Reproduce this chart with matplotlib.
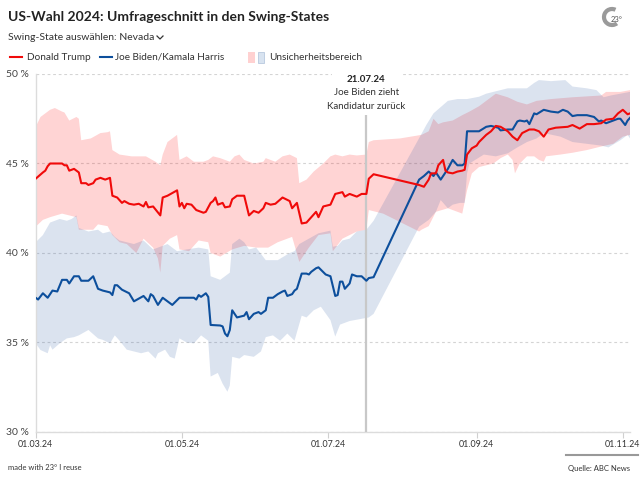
import numpy as np
import matplotlib.pyplot as plt
import matplotlib.dates as mdates
from matplotlib.patches import Rectangle, Arc
from matplotlib.lines import Line2D

plt.rcParams['font.family'] = ['Lato', 'DejaVu Sans']

# Tage seit dem 01.03.24 und Umfragewerte in Prozent (Nevada)
start = np.datetime64('2024-03-01')

trump_days = [0, 3, 4, 5, 6, 11, 12, 13, 14, 16, 18, 19, 21, 22, 24, 25, 27, 29, 31, 32,
              34, 36, 37, 39, 41, 43, 45, 46, 47, 49, 52, 53, 55, 59, 60, 61, 62, 63, 65, 67,
              70, 71, 73, 74, 75, 76, 78, 79, 81, 82, 84, 87, 89, 91, 93, 95, 96, 98, 100, 103,
              106, 107, 109, 111, 113, 117, 118, 120, 123, 125, 128, 129, 131, 134, 136, 137, 138, 139, 141, 160,
              162, 164, 165, 167, 168, 170, 171, 172, 174, 176, 178, 179, 180, 182, 184, 185, 188, 190, 192, 194,
              197, 199, 201, 203, 206, 208, 210, 212, 214, 217, 222, 224, 227, 230, 233, 236, 238, 241, 243, 245,
              247, 248]
trump_vals = [44.15, 44.5, 44.6, 44.85, 45.0, 45.0, 44.9, 44.9, 44.6, 44.7, 44.5, 43.9, 43.9, 43.8, 43.9, 44.1, 44.2, 44.1, 44.2, 43.2,
              43.1, 42.8, 42.9, 42.75, 42.7, 42.75, 42.6, 42.85, 42.55, 42.6, 42.1, 43.1, 43.2, 43.5, 42.6, 42.8, 42.5, 42.75, 42.7, 42.4,
              42.25, 42.3, 42.8, 42.9, 43.1, 42.7, 42.8, 42.55, 42.6, 43.0, 43.2, 43.2, 42.1, 42.35, 42.25, 42.5, 42.8, 42.7, 42.75, 43.1,
              42.9, 42.5, 42.8, 41.65, 41.7, 42.3, 42.0, 42.6, 42.7, 43.3, 43.4, 43.15, 43.3, 43.15, 43.3, 43.3, 43.3, 44.15, 44.4, 43.8,
              43.7, 44.1, 44.45, 44.45, 44.9, 45.2, 44.6, 44.5, 44.45, 44.55, 44.6, 44.65, 45.5, 45.85, 46.0, 46.2, 46.6, 46.8, 47.1, 47.05,
              46.8, 46.5, 46.3, 46.7, 46.9, 46.9, 46.8, 46.5, 46.9, 47.0, 47.05, 47.15, 46.95, 47.2, 47.2, 47.25, 47.45, 47.5, 47.8, 48.0,
              47.75, 47.8]

biden_days = [0, 1, 3, 5, 7, 9, 11, 13, 14, 16, 18, 19, 22, 24, 26, 28, 31, 32, 33, 34,
              36, 39, 41, 45, 47, 48, 49, 51, 53, 55, 57, 60, 66, 67, 68, 69, 71, 72, 73, 77,
              78, 79, 80, 81, 82, 84, 87, 88, 89, 91, 93, 94, 96, 97, 99, 101, 103, 104, 105, 107,
              108, 109, 111, 113, 114, 115, 117, 118, 121, 123, 125, 126, 127, 128, 129, 131, 132, 134, 136, 138,
              139, 141, 160, 162, 164, 166, 167, 169, 172, 174, 176, 178, 179, 180, 185, 188, 190, 193, 194, 197,
              199, 201, 202, 204, 205, 206, 208, 209, 212, 215, 218, 220, 222, 224, 226, 230, 233, 235, 236, 238,
              240, 243, 244, 246, 247, 248]
biden_vals = [37.5, 37.4, 37.75, 37.5, 37.9, 37.85, 38.5, 38.5, 38.3, 38.7, 38.7, 38.45, 38.45, 38.7, 38.0, 37.9, 37.8, 37.65, 38.2, 38.2,
              37.95, 37.75, 37.3, 37.6, 37.3, 37.7, 37.6, 37.1, 37.5, 37.3, 37.1, 37.5, 37.5, 37.4, 37.65, 37.55, 37.75, 37.55, 35.98, 35.95,
              35.9, 35.5, 35.35, 35.7, 36.8, 36.4, 36.5, 36.7, 36.3, 36.6, 36.7, 36.6, 36.8, 37.5, 37.5, 37.7, 37.85, 37.9, 37.6, 37.7,
              37.9, 38.0, 38.85, 38.85, 38.8, 38.95, 39.15, 39.2, 38.8, 38.7, 37.6, 37.65, 38.4, 38.4, 38.0, 38.3, 38.8, 38.7, 38.7, 38.45,
              38.6, 38.65, 44.1, 44.3, 44.55, 44.3, 44.5, 44.1, 44.7, 45.2, 44.9, 44.9, 45.0, 46.8, 46.8, 47.05, 47.1, 47.0, 46.85, 46.9,
              46.9, 47.35, 47.4, 47.35, 47.4, 47.2, 47.8, 47.75, 48.0, 47.9, 47.85, 48.0, 47.9, 47.65, 47.7, 47.7, 47.6, 47.35, 47.4, 47.25,
              47.35, 47.5, 47.5, 47.15, 47.4, 47.55]

trump_hi_days = [0, 2, 6, 8, 11, 12, 14, 17, 18, 19, 23, 27, 30, 31, 32, 35, 40, 46, 50, 52,
                 53, 55, 59, 60, 63, 66, 70, 72, 74, 77, 81, 83, 85, 87, 91, 95, 96, 100, 103, 106,
                 109, 110, 113, 116, 120, 123, 125, 128, 131, 134, 138, 139, 141, 152, 161, 164, 166, 168, 170, 174,
                 178, 181, 185, 190, 192, 197, 201, 205, 209, 215, 224, 236, 238, 244, 248]
trump_hi_vals = [47.05, 47.6, 48.0, 48.1, 47.9, 47.85, 47.4, 47.6, 47.5, 46.3, 46.4, 46.7, 46.75, 46.8, 45.75, 45.5, 45.4, 45.4, 45.1, 44.9,
                 45.5, 46.2, 46.6, 45.2, 45.4, 45.1, 45.1, 45.2, 45.4, 45.3, 45.1, 45.4, 45.5, 45.2, 45.0, 45.1, 45.3, 45.1, 45.4, 45.5,
                 45.3, 43.9, 44.1, 44.55, 45.0, 45.4, 45.5, 45.4, 45.5, 45.45, 45.5, 46.2, 46.3, 46.4, 46.6, 46.8, 47.5, 47.2, 47.3, 47.4,
                 47.7, 47.9, 48.2, 48.7, 48.9, 48.7, 48.45, 48.3, 48.5, 48.6, 48.7, 48.8, 49.0, 49.0, 49.1]

trump_lo_days = [0, 3, 6, 11, 17, 18, 24, 26, 30, 32, 35, 38, 42, 45, 49, 51, 52, 53, 56, 59,
                 60, 64, 68, 72, 73, 77, 82, 87, 92, 97, 101, 106, 107, 110, 114, 118, 123, 124, 128, 131,
                 134, 138, 139, 145, 160, 161, 164, 167, 172, 178, 180, 182, 185, 191, 194, 197, 199, 200, 202, 205,
                 208, 210, 212, 213, 219, 224, 230, 236, 241, 245, 248]
trump_lo_vals = [41.47, 41.85, 42.0, 42.2, 42.0, 41.3, 41.3, 41.6, 41.5, 41.0, 40.6, 40.5, 40.0, 40.8, 40.3, 39.7, 38.9, 40.4, 40.8, 41.0,
                 40.2, 40.1, 40.7, 40.6, 40.0, 39.8, 40.2, 40.4, 40.3, 40.3, 40.6, 40.85, 40.9, 39.5, 40.3, 41.0, 41.1, 40.1, 40.8, 41.0,
                 41.2, 41.3, 42.4, 42.2, 41.2, 41.3, 41.5, 42.3, 42.5, 42.2, 43.5, 44.45, 44.8, 45.0, 45.3, 45.5, 45.2, 44.45, 45.0, 45.4,
                 45.4, 45.2, 45.1, 45.4, 45.5, 45.6, 45.75, 45.95, 46.1, 46.5, 46.6]

biden_hi_days = [0, 3, 6, 10, 13, 15, 17, 18, 22, 26, 28, 31, 33, 35, 41, 45, 49, 51, 55, 59,
                 63, 68, 72, 73, 77, 81, 82, 85, 87, 89, 92, 96, 101, 106, 108, 110, 114, 118, 123, 124,
                 126, 128, 131, 134, 138, 141, 162, 163, 166, 172, 176, 180, 185, 188, 191, 197, 205, 208, 210, 215,
                 221, 224, 230, 234, 237, 240, 244, 248]
biden_hi_vals = [40.6, 41.0, 41.7, 41.9, 41.8, 41.9, 42.1, 41.4, 41.2, 41.3, 41.1, 41.2, 40.9, 40.7, 40.5, 40.7, 40.2, 40.3, 40.5, 40.1,
                 40.2, 40.3, 40.2, 38.7, 38.5, 38.9, 40.5, 40.8, 40.6, 40.2, 40.3, 39.6, 39.6, 40.0, 40.1, 40.5, 40.8, 41.1, 41.25, 40.35,
                 40.4, 40.7, 40.8, 41.2, 41.3, 41.8, 46.9, 47.15, 47.8, 48.5, 48.6, 48.6, 48.73, 48.9, 49.0, 49.2, 49.2, 49.5, 49.66, 49.6,
                 49.66, 49.3, 49.2, 49.1, 48.7, 48.8, 48.9, 49.0]

biden_lo_days = [0, 2, 5, 6, 7, 10, 13, 16, 18, 22, 26, 28, 31, 33, 35, 38, 41, 44, 47, 50,
                 51, 54, 56, 58, 60, 63, 66, 69, 72, 73, 76, 78, 80, 81, 82, 85, 87, 91, 94, 96,
                 99, 102, 105, 108, 111, 113, 116, 119, 123, 125, 127, 131, 135, 139, 141, 160, 164, 167, 169, 172,
                 174, 177, 179, 180, 181, 187, 192, 197, 201, 205, 209, 212, 219, 224, 230, 236, 239, 244, 247, 248]
biden_lo_vals = [34.95, 34.58, 34.4, 34.85, 34.6, 34.95, 35.23, 35.3, 35.4, 35.7, 35.23, 35.15, 34.95, 35.4, 35.1, 34.6, 34.5, 34.4, 34.5, 34.1,
                 34.4, 34.6, 34.2, 34.1, 35.23, 35.0, 34.95, 35.4, 35.1, 33.1, 33.3, 32.7, 32.25, 32.6, 34.2, 34.1, 34.3, 34.2, 34.5, 35.3,
                 35.4, 35.1, 35.5, 35.1, 36.5, 36.4, 36.8, 37.0, 36.25, 35.33, 36.0, 36.2, 36.3, 36.4, 36.6, 41.47, 41.85, 42.3, 42.96, 42.5,
                 42.7, 42.8, 42.8, 44.45, 45.0, 45.5, 45.4, 45.57, 45.9, 46.2, 46.4, 46.7, 46.5, 46.2, 46.1, 46.0, 45.9, 46.3, 46.6, 46.4]

tick_dates = ['2024-03-01', '2024-05-01', '2024-07-01', '2024-09-01', '2024-11-01']
tick_labels = ['01.03.24', '01.05.24', '01.07.24', '01.09.24', '01.11.24']
y_ticks = [30, 35, 40, 45, 50]
event_date = '2024-07-17'

RED = '#f00a0a'
BLUE = '#0d4f9c'


def to_num(days):
    return mdates.date2num(start + np.array(days).astype('timedelta64[D]'))


def band(ax, hi_d, hi_v, lo_d, lo_v, color):
    xs = np.concatenate([to_num(hi_d), to_num(lo_d)[::-1]])
    ys = np.concatenate([hi_v, lo_v[::-1]])
    ax.fill(xs, ys, color=color, alpha=0.17, lw=0, zorder=2)


W, H = 640, 480


def fx(x):
    return x / W


def fy(y):
    return 1 - y / H


fig = plt.figure(figsize=(6.4, 4.8), dpi=100)
ax = fig.add_axes([fx(35.7), fy(432), (630 - 35.7) / W, (432 - 74) / H])

band(ax, trump_hi_days, trump_hi_vals, trump_lo_days, trump_lo_vals, '#ff0000')
band(ax, biden_hi_days, biden_hi_vals, biden_lo_days, biden_lo_vals, '#2a5aa5')

ax.plot(to_num(biden_days), biden_vals, color=BLUE, lw=1.5, zorder=4)
ax.plot(to_num(trump_days), trump_vals, color=RED, lw=1.5, zorder=5)

ax.set_ylim(30, 50)
ax.set_xlim(to_num([0])[0], to_num([248])[0])

ax.set_yticks(y_ticks)
ax.set_yticklabels([f'{v} %' for v in y_ticks])
ax.set_xticks(mdates.date2num(np.array(tick_dates, dtype='datetime64[D]')))
ax.set_xticklabels(tick_labels)
ax.grid(axis='y', color='#d4d4d4', ls=(0, (2.5, 2.5)), lw=0.8, zorder=1)
ax.set_axisbelow(True)

for s in ['top', 'right']:
    ax.spines[s].set_visible(False)
for s in ['left', 'bottom']:
    ax.spines[s].set_color('#dcdcdc')
    ax.spines[s].set_linewidth(1.0)
ax.tick_params(axis='y', length=0, pad=5, labelsize=7.5, labelcolor='#444444')
ax.tick_params(axis='x', length=4, color='#d0d0d0', pad=2, labelsize=6.4, labelcolor='#333333')

# Ereignis-Markierung mit weißem Hintergrund über der 50-%-Linie
ev = mdates.date2num(np.datetime64(event_date))
ax.add_patch(Rectangle(((332 - 35.7) / 594.3, 0.885), 70 / 594.3, 0.13,
                       transform=ax.transAxes, fc='white', ec='none', zorder=6, clip_on=False))
ax.plot([ev, ev], [30, 47.8], color='#c8c8c8', lw=1.6, zorder=3)
ax.text(ev, 49.72, '21.07.24', ha='center', va='center', fontsize=7, weight='bold',
        color='#222222', zorder=7)
ax.text(ev, 48.94, 'Joe Biden zieht', ha='center', va='center', fontsize=7,
        color='#333333', zorder=7)
ax.text(ev, 48.21, 'Kandidatur zurück', ha='center', va='center', fontsize=7,
        color='#333333', zorder=7)

# Kopfbereich
fig.text(fx(8), fy(17), 'US-Wahl 2024: Umfrageschnitt in den Swing-States',
         fontsize=10, weight='bold', color='#222222', va='center')
fig.text(fx(8), fy(37), 'Swing-State auswählen: Nevada', fontsize=7.5,
         color='#333333', va='center')
fig.add_artist(Line2D([fx(157), fx(160), fx(163)], [fy(36), fy(39), fy(36)],
                      color='#333333', lw=0.9))

fig.add_artist(Line2D([fx(10), fx(22)], [fy(57), fy(57)], color=RED, lw=1.5))
fig.text(fx(27), fy(57), 'Donald Trump', fontsize=7.2, color='#333333', va='center')
fig.add_artist(Line2D([fx(100), fx(112)], [fy(57), fy(57)], color=BLUE, lw=1.5))
fig.text(fx(115), fy(57), 'Joe Biden/Kamala Harris', fontsize=7.2, color='#333333', va='center')
fig.add_artist(Rectangle((fx(248), fy(63)), 7 / W, 11 / H, transform=fig.transFigure,
                         fc='#ffd1d1', ec='none'))
fig.add_artist(Rectangle((fx(258), fy(63)), 6 / W, 11 / H, transform=fig.transFigure,
                         fc='#d8e3f0', ec='#b8c9df', lw=0.6))
fig.text(fx(269), fy(57), 'Unsicherheitsbereich', fontsize=7.2, color='#333333', va='center')

# Logo
fig.add_artist(Arc((fx(612), fy(17)), 16 / W, 16 / H, theta1=70, theta2=300,
                   transform=fig.transFigure, color='#9a9a9a', lw=3))
fig.text(fx(617), fy(20), '23°', fontsize=5.5, color='#555555', va='center', ha='center')

# Fußzeile
fig.text(fx(8), fy(468), 'made with 23° I reuse', fontsize=5.5, color='#333333', va='center')
fig.text(fx(630), fy(468), 'Quelle: ABC News', fontsize=5.5, color='#333333', va='center', ha='right')
fig.add_artist(Line2D([fx(566), fx(638)], [fy(455), fy(455)], color='#999999', lw=1.5))

fig.savefig('out.png', dpi=100)
